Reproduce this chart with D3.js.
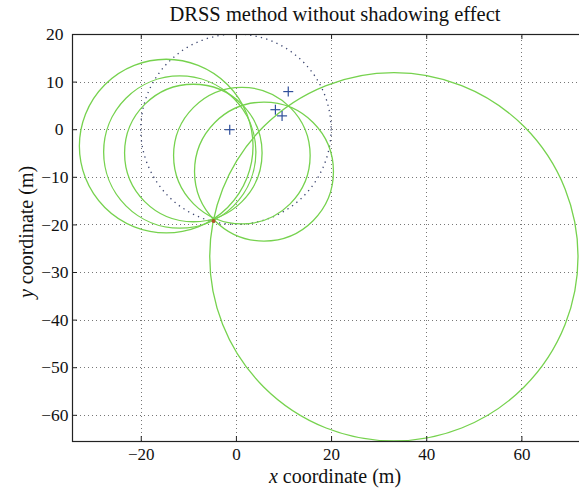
<!DOCTYPE html>
<html>
<head>
<meta charset="utf-8">
<script src="https://cdn.jsdelivr.net/npm/d3@7"></script>
<style>
  body { margin: 0; background: #fff; }
  svg { display: block; }
  text { font-family: "Times New Roman", "Liberation Serif", "DejaVu Serif", serif; fill: #111; }
</style>
</head>
<body>
<div id="chart"></div>
<script>
// anchor nodes (blue +)
const anchorX = [-1.3, 8.3, 9.7, 11.0];
const anchorY = [-0.1, 4.1, 2.8, 7.9];

// DRSS circles (green)
const circleX = [-14.65, -11.8, -8.95, 1.25, 5.9, 33.2];
const circleY = [-3.55, -4.8, -5.0, -5.55, -8.9, -26.8];
const circleR = [18.25, 16.0, 14.45, 14.35, 14.6, 38.7];

// reference circle (dotted) and estimated point
const refCircle = [0, 0, 20];
const estPoint = [-4.7, -19.3];

const xTicks = [-20, 0, 20, 40, 60];
const yTicks = [20, 10, 0, -10, -20, -30, -40, -50, -60];

const W = 579, H = 493;
const margin = { top: 34, right: -19, bottom: 52, left: 72 };

const x = d3.scaleLinear().domain([-34.45, 76.1]).range([margin.left, W - margin.right]);
const y = d3.scaleLinear().domain([-65.5, 20]).range([H - margin.bottom, margin.top]);

const svg = d3.select("#chart").append("svg")
  .attr("width", W)
  .attr("height", H);

svg.append("clipPath").attr("id", "plot")
  .append("rect")
  .attr("x", x.range()[0]).attr("y", y.range()[1])
  .attr("width", x.range()[1] - x.range()[0])
  .attr("height", y.range()[0] - y.range()[1]);

// grid
const grid = svg.append("g").attr("stroke", "#777").attr("stroke-width", 1).attr("stroke-dasharray", "1,3");
grid.selectAll(".gx").data(xTicks).join("line")
  .attr("x1", d => Math.round(x(d)) + 0.5).attr("x2", d => Math.round(x(d)) + 0.5)
  .attr("y1", y.range()[0]).attr("y2", y.range()[1]);
grid.selectAll(".gy").data(yTicks).join("line")
  .attr("y1", d => Math.round(y(d)) + 0.5).attr("y2", d => Math.round(y(d)) + 0.5)
  .attr("x1", x.range()[0]).attr("x2", x.range()[1]);

const plot = svg.append("g").attr("clip-path", "url(#plot)");

// dotted reference circle
plot.append("circle")
  .attr("cx", x(refCircle[0])).attr("cy", y(refCircle[1]))
  .attr("r", x(refCircle[2]) - x(0))
  .attr("fill", "none")
  .attr("stroke", "#3c4670")
  .attr("stroke-width", 1.3)
  .attr("stroke-dasharray", "1.3,4.2");

// green circles
plot.selectAll(".drss").data(circleR).join("circle")
  .attr("class", "drss")
  .attr("cx", (d, i) => x(circleX[i]))
  .attr("cy", (d, i) => y(circleY[i]))
  .attr("r", d => x(d) - x(0))
  .attr("fill", "none")
  .attr("stroke", "#76d24e")
  .attr("stroke-width", 1.3);

// estimated point
plot.append("circle")
  .attr("cx", x(estPoint[0])).attr("cy", y(estPoint[1]))
  .attr("r", 2)
  .attr("fill", "#b2502a");

// anchors
const plus = plot.selectAll(".anchor").data(anchorX).join("g")
  .attr("class", "anchor")
  .attr("transform", (d, i) => `translate(${x(d)},${y(anchorY[i])})`)
  .attr("stroke", "#2f4f9a")
  .attr("stroke-width", 1.2);
plus.append("line").attr("x1", -5).attr("x2", 5);
plus.append("line").attr("y1", -5).attr("y2", 5);

// axes box
svg.append("rect")
  .attr("x", x.range()[0] + 0.5).attr("y", y.range()[1] + 0.5)
  .attr("width", x.range()[1] - x.range()[0])
  .attr("height", y.range()[0] - y.range()[1])
  .attr("fill", "none").attr("stroke", "#222").attr("stroke-width", 1.2);

// axes (inside ticks)
const fmt = d => d < 0 ? "\u2212" + Math.abs(d) : d;
const xAxis = svg.append("g")
  .attr("transform", `translate(0,${y.range()[0]})`)
  .call(d3.axisBottom(x).tickValues(xTicks).tickSizeInner(-5).tickSizeOuter(0).tickPadding(7).tickFormat(fmt));
xAxis.select(".domain").remove();

const xTop = svg.append("g")
  .attr("transform", `translate(0,${y.range()[1]})`)
  .call(d3.axisTop(x).tickValues(xTicks).tickSizeInner(-5).tickSizeOuter(0).tickFormat(""));
xTop.select(".domain").remove();

const yAxis = svg.append("g")
  .attr("transform", `translate(${x.range()[0]},0)`)
  .call(d3.axisLeft(y).tickValues(yTicks).tickSizeInner(-5).tickSizeOuter(0).tickPadding(8.5).tickFormat(fmt));
yAxis.select(".domain").remove();
yAxis.selectAll(".tick text").attr("dx", d => d < 0 ? 5 : 0);

svg.selectAll(".tick text").attr("font-size", "17.5px").attr("font-family", null).attr("fill", "#111");
xAxis.selectAll(".tick text").attr("font-size", "17px");
svg.selectAll("g").attr("font-family", null);
svg.selectAll(".tick line").attr("stroke", "#222");

// title
svg.append("text")
  .attr("x", (x.range()[0] + x.range()[1]) / 2)
  .attr("y", 21)
  .attr("text-anchor", "middle")
  .attr("font-size", "20.5px")
  .text("DRSS method without shadowing effect");

// axis labels
const xl = svg.append("text")
  .attr("x", (x.range()[0] + x.range()[1]) / 2)
  .attr("y", 483)
  .attr("text-anchor", "middle")
  .attr("font-size", "20px");
xl.append("tspan").attr("font-style", "italic").text("x");
xl.append("tspan").text(" coordinate (m)");

const yl = svg.append("text")
  .attr("transform", `translate(33,232) rotate(-90)`)
  .attr("text-anchor", "middle")
  .attr("font-size", "20px");
yl.append("tspan").attr("font-style", "italic").text("y");
yl.append("tspan").text(" coordinate (m)");
</script>
</body>
</html>
